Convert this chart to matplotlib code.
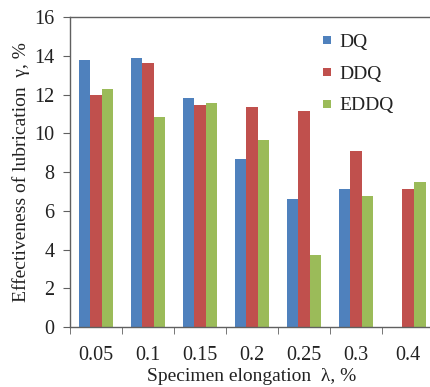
"""Bar chart: effectiveness of lubrication vs specimen elongation."""

import matplotlib

matplotlib.use("Agg")
import matplotlib.pyplot as plt
from matplotlib.lines import Line2D
import numpy as np

categories = ["0.05", "0.1", "0.15", "0.2", "0.25", "0.3", "0.4"]
dq = [13.8, 13.9, 11.8, 8.65, 6.6, 7.1, 0.0]
ddq = [11.95, 13.65, 11.45, 11.35, 11.15, 9.1, 7.1]
eddq = [12.3, 10.85, 11.55, 9.65, 3.72, 6.75, 7.5]
series_names = ["DQ", "DDQ", "EDDQ"]
colors = ["#4F81BD", "#C0504D", "#9BBB59"]

plt.rcParams["font.family"] = ["Liberation Serif", "DejaVu Serif"]

fig = plt.figure(figsize=(4.31, 3.87), dpi=100)
ax = fig.add_axes([0.1624, 0.155, 0.845, 0.801])

x = np.arange(len(categories))
width = 0.667 / 3
for i, (vals, name, col) in enumerate(zip([dq, ddq, eddq], series_names, colors)):
    ax.bar(x + (i - 1) * width, vals, width, color=col, label=name, linewidth=0)

ax.set_xlim(-0.5, len(categories) - 0.5)
ax.set_ylim(0, 16)
ax.set_yticks(range(0, 17, 2))
ax.set_xticks(x)
ax.set_xticklabels(categories)
ax.set_xticks(np.arange(-0.5, len(categories), 1.0), minor=True)

edge = "#606060"
for side in ["left", "bottom", "top"]:
    ax.spines[side].set_color(edge)
    ax.spines[side].set_linewidth(1.0)
ax.spines["right"].set_visible(False)

ax.tick_params(axis="x", which="major", length=0, pad=14, labelsize=14.5,
               labelcolor="#222222")
ax.tick_params(axis="x", which="minor", length=5, direction="out", color=edge)
ax.tick_params(axis="y", length=5, direction="out", color=edge, pad=6,
               labelsize=14.5, labelcolor="#222222")

ax.set_xlabel("Specimen elongation  λ, %", fontsize=14, labelpad=1.5,
              color="#222222")
ax.set_ylabel("Effectiveness of lubrication  γ, %", fontsize=14, labelpad=3,
              color="#222222")

handles = [Line2D([], [], marker="s", linestyle="", markersize=6,
                  markerfacecolor=c, markeredgewidth=0) for c in colors]
leg = ax.legend(handles, series_names, loc="upper left",
                bbox_to_anchor=(0.646, 1.003), frameon=False, fontsize=14,
                handlelength=0.4, handletextpad=0.45, labelspacing=0.72)
for t in leg.get_texts():
    t.set_color("#222222")

fig.savefig("out.png", dpi=100)
plt.close(fig)
